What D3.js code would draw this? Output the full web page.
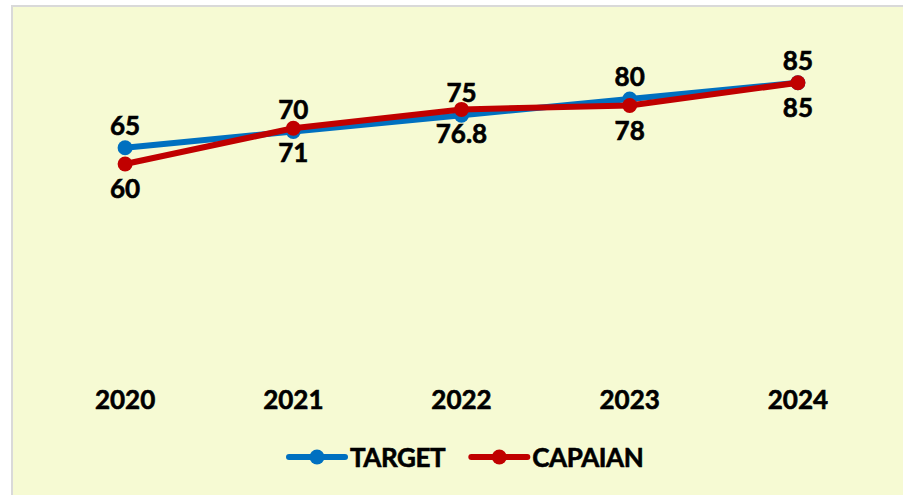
<!DOCTYPE html>
<html>
<head>
<meta charset="utf-8">
<script src="https://cdn.jsdelivr.net/npm/d3@7"></script>
<style>
  html, body { margin: 0; padding: 0; background: #ffffff; }
  svg text { font-family: Lato, "Open Sans", sans-serif; font-weight: bold; fill: #000; stroke: #000; stroke-width: 0.6px; }
</style>
</head>
<body>
<svg id="mainSVG" width="903" height="495"></svg>
<script>
// data
var years = ["2020", "2021", "2022", "2023", "2024"];
var target = [65, 70, 75, 80, 85];
var capaian = [60, 71, 76.8, 78, 85];
var seriesNames = ["TARGET", "CAPAIAN"];
var seriesColors = ["#0070C0", "#C00000"];

var svg = d3.select("#mainSVG");

// chart background with thin grey frame
svg.append("rect")
    .attr("x", 12)
    .attr("y", 6)
    .attr("width", 903)
    .attr("height", 500)
    .attr("fill", "#F6FAD3")
    .attr("stroke", "#D9D9D9")
    .attr("stroke-width", 2);

var x = d3.scaleBand()
    .domain(years)
    .range([41, 882]);

var y = d3.scaleLinear()
    .domain([0, 100])
    .range([359, 34]);

// category axis, no line, no ticks
var xAxis = svg.append("g")
    .attr("transform", "translate(0,359)")
    .call(d3.axisBottom(x).tickSize(0).tickPadding(0));
xAxis.select(".domain").remove();
xAxis.selectAll("text")
    .attr("y", 50)
    .attr("dy", null)
    .attr("font-size", 26)
    .style("font-family", "Lato, sans-serif")
    .style("font-weight", "bold")
    .attr("fill", "#000");

var series = [target, capaian];

var line = d3.line()
    .x(function(d, i) { return x(years[i]) + x.bandwidth() / 2; })
    .y(function(d) { return y(d); });

series.forEach(function(values, s) {
  var g = svg.append("g");
  g.append("path")
      .datum(values)
      .attr("d", line)
      .attr("fill", "none")
      .attr("stroke", seriesColors[s])
      .attr("stroke-width", 6)
      .attr("stroke-linejoin", "round")
      .attr("stroke-linecap", "round");
  g.selectAll("circle")
      .data(values)
      .enter().append("circle")
      .attr("cx", function(d, i) { return x(years[i]) + x.bandwidth() / 2; })
      .attr("cy", function(d) { return y(d); })
      .attr("r", 7.5)
      .attr("fill", seriesColors[s]);
});

// value labels: target above, capaian below
svg.append("g").selectAll("text")
    .data(target)
    .enter().append("text")
    .attr("x", function(d, i) { return x(years[i]) + x.bandwidth() / 2; })
    .attr("y", function(d) { return y(d) - 13; })
    .attr("text-anchor", "middle")
    .attr("font-size", 26)
    .text(function(d) { return d; });

svg.append("g").selectAll("text")
    .data(capaian)
    .enter().append("text")
    .attr("x", function(d, i) { return x(years[i]) + x.bandwidth() / 2; })
    .attr("y", function(d) { return y(d) + 34; })
    .attr("text-anchor", "middle")
    .attr("font-size", 26)
    .text(function(d) { return d; });

// legend
var legend = svg.append("g").attr("transform", "translate(289,457)");
var lx = 0;
seriesNames.forEach(function(name, s) {
  var item = legend.append("g").attr("transform", "translate(" + lx + ",0)");
  item.append("line")
      .attr("x1", 0).attr("x2", 56)
      .attr("y1", 0).attr("y2", 0)
      .attr("stroke", seriesColors[s])
      .attr("stroke-width", 6)
      .attr("stroke-linecap", "round");
  item.append("circle")
      .attr("cx", 28).attr("cy", 0)
      .attr("r", 7.5)
      .attr("fill", seriesColors[s]);
  var t = item.append("text")
      .attr("x", 61)
      .attr("y", 10)
      .attr("font-size", 26)
      .attr("letter-spacing", -0.4)
      .text(name);
  lx += 61 + t.node().getComputedTextLength() + 26;
});
</script>
</body>
</html>
